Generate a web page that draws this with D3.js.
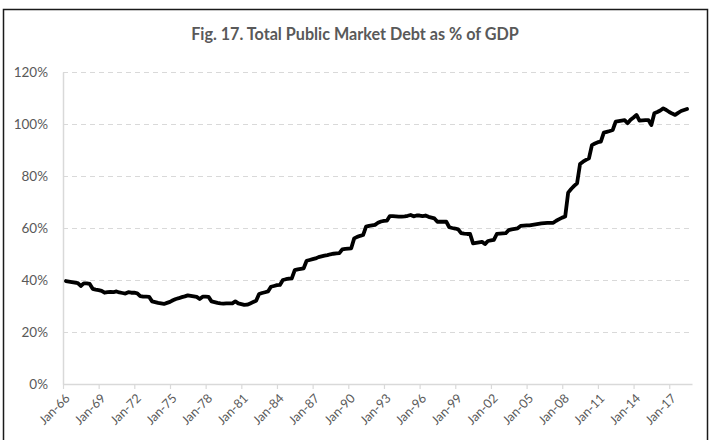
<!DOCTYPE html>
<html>
<head>
<meta charset="utf-8">
<script src="https://cdn.jsdelivr.net/npm/d3@7"></script>
<style>
  html, body { margin: 0; padding: 0; background: #fff; }
  svg { display: block; }
  text { font-family: Lato, "Open Sans", sans-serif; }
</style>
</head>
<body>
<svg id="chart" width="710" height="440"></svg>
<script>
// ---- data ----
const title = "Fig. 17. Total Public Market Debt as % of GDP";
const firstQuarter = "1966-04"; // quarterly observations start (Apr-66)
// Total public market debt, % of GDP, quarterly (Apr-66 ... Jul-18)
const debtPct = [
  39.6, 39.4, 39.2,                 // 1966 Apr-Oct
  39.0, 38.8, 37.7, 38.7,           // 1967
  38.7, 38.5, 36.6, 36.3,           // 1968
  36.1, 35.8, 35.1, 35.3,           // 1969
  35.4, 35.3, 35.6, 35.2,           // 1970
  35.0, 34.8, 35.3, 35.1,           // 1971
  35.1, 34.9, 33.8, 33.6,           // 1972
  33.6, 33.5, 31.8, 31.5,           // 1973
  31.2, 31.0, 30.8, 31.2,           // 1974
  31.6, 32.2, 32.7, 33.0,           // 1975
  33.4, 33.7, 34.1, 33.9,           // 1976
  33.7, 33.5, 32.7, 33.6,           // 1977
  33.6, 33.5, 31.8, 31.5,           // 1978
  31.2, 31.0, 30.9, 31.0,           // 1979
  31.0, 31.0, 31.8, 31.0,           // 1980
  30.7, 30.4, 30.5, 31.0,           // 1981
  31.5, 32.0, 34.6, 35.0,           // 1982
  35.3, 35.6, 37.4, 37.7,           // 1983
  38.0, 38.1, 40.0, 40.3,           // 1984
  40.5, 40.6, 43.8, 44.1,           // 1985
  44.3, 44.5, 47.4, 47.7,           // 1986
  48.0, 48.3, 48.8, 49.1,           // 1987
  49.4, 49.6, 49.9, 50.1,           // 1988
  50.2, 50.3, 51.8, 52.0,           // 1989
  52.1, 52.2, 56.0, 56.6,           // 1990
  57.0, 57.3, 60.5, 60.8,           // 1991
  61.0, 61.2, 62.0, 62.5,           // 1992
  62.7, 62.8, 64.6, 64.6,           // 1993
  64.5, 64.4, 64.4, 64.5,           // 1994
  64.7, 65.0, 64.5, 64.8,           // 1995
  64.8, 64.6, 64.8, 64.3,           // 1996
  64.0, 63.7, 62.4, 62.4,           // 1997
  62.4, 62.4, 60.3, 60.0,           // 1998
  59.8, 59.5, 58.0, 57.8,           // 1999
  57.7, 57.7, 54.1, 54.3,           // 2000
  54.5, 54.7, 53.8, 55.0,           // 2001
  55.2, 55.4, 57.7, 57.8,           // 2002
  57.9, 58.0, 59.2, 59.5,           // 2003
  59.7, 59.9, 60.8, 60.9,           // 2004
  61.0, 61.0, 61.2, 61.4,           // 2005
  61.6, 61.8, 61.9, 62.0,           // 2006
  62.0, 62.0, 62.8, 63.4,           // 2007
  64.0, 64.4, 73.6, 75.0,           // 2008
  76.2, 77.2, 84.6, 85.5,           // 2009
  86.2, 86.8, 91.9, 92.5,           // 2010
  93.0, 93.2, 96.7, 97.0,           // 2011
  97.3, 97.7, 100.9, 101.1,         // 2012
  101.3, 101.5, 100.3, 101.6,       // 2013
  102.5, 103.5, 101.3, 101.4,       // 2014
  101.5, 101.5, 99.6, 104.1,        // 2015
  104.6, 105.2, 106.0, 105.4,       // 2016
  104.6, 104.0, 103.5, 104.3,       // 2017
  105.0, 105.4, 105.8               // 2018 Jan-Jul
];
const xTickYears = [1966, 1969, 1972, 1975, 1978, 1981, 1984, 1987, 1990, 1993, 1996, 1999, 2002, 2005, 2008, 2011, 2014, 2017];
const yTicks = [0, 20, 40, 60, 80, 100, 120];

// ---- layout ----
const svg = d3.select("#chart");
const plot = { left: 63, right: 692, top: 72, bottom: 384 };
const gridColor = "#d9d9d9";
const textColor = "#595959";

// chart border
svg.append("rect")
  .attr("x", 3.5).attr("y", 9.5).attr("width", 704).attr("height", 440)
  .attr("fill", "none").attr("stroke", "#1a1a1a").attr("stroke-width", 1.5);

const parseMonth = d3.timeParse("%Y-%m");
const start = parseMonth(firstQuarter);
const data = debtPct.map((v, i) => ({ date: d3.timeMonth.offset(start, 3 * i), value: v }));

const x = d3.scaleTime()
  .domain([new Date(1966, 0, 1), new Date(2018, 11, 1)])
  .range([plot.left, plot.right]);
const y = d3.scaleLinear().domain([0, 120]).range([plot.bottom, plot.top]);

// gridlines
svg.append("g")
  .attr("transform", `translate(${plot.left},0)`)
  .call(d3.axisLeft(y).tickValues(yTicks.filter(d => d > 0)).tickSize(-(plot.right - plot.left)).tickFormat(""))
  .call(g => g.select(".domain").remove())
  .call(g => g.selectAll("line")
    .attr("stroke", gridColor).attr("stroke-width", 1).attr("stroke-dasharray", "5,4"));

// y axis labels + axis line
const yAxis = svg.append("g")
  .attr("transform", `translate(${plot.left},0)`)
  .call(d3.axisLeft(y).tickValues(yTicks).tickSize(0).tickPadding(15).tickFormat(d => d + "%"));
yAxis.select(".domain").attr("stroke", gridColor).attr("stroke-width", 1.5);
yAxis.selectAll("text").attr("fill", textColor).attr("font-size", 13.5);

// x axis
const xAxis = svg.append("g")
  .attr("transform", `translate(0,${plot.bottom})`)
  .call(d3.axisBottom(x)
    .tickValues(xTickYears.map(yr => new Date(yr, 0, 1)))
    .tickSize(5).tickSizeOuter(0)
    .tickFormat(d3.timeFormat("%b-%y")));
xAxis.select(".domain").attr("stroke", gridColor).attr("stroke-width", 1.5);
xAxis.selectAll(".tick line").attr("stroke", gridColor).attr("stroke-width", 1.2);
xAxis.selectAll("text")
  .attr("fill", textColor).attr("font-size", 12.5)
  .attr("text-anchor", "end")
  .attr("dy", "0.35em")
  .attr("transform", "translate(4,12) rotate(-45)")
  .attr("x", 0).attr("y", 0);

// line
const line = d3.line().x(d => x(d.date)).y(d => y(d.value));
svg.append("path")
  .datum(data)
  .attr("fill", "none")
  .attr("stroke", "#000")
  .attr("stroke-width", 3.8)
  .attr("stroke-linejoin", "round")
  .attr("stroke-linecap", "round")
  .attr("d", line);

// title
const t = svg.append("text")
  .attr("x", 355).attr("y", 40)
  .attr("text-anchor", "middle")
  .attr("font-weight", "bold")
  .attr("font-size", 18)
  .attr("fill", textColor)
  .text(title);
// fit title to reference width (~328px)
const tw = t.node().getComputedTextLength();
t.attr("font-size", 18 * 328 / tw);
</script>
</body>
</html>
